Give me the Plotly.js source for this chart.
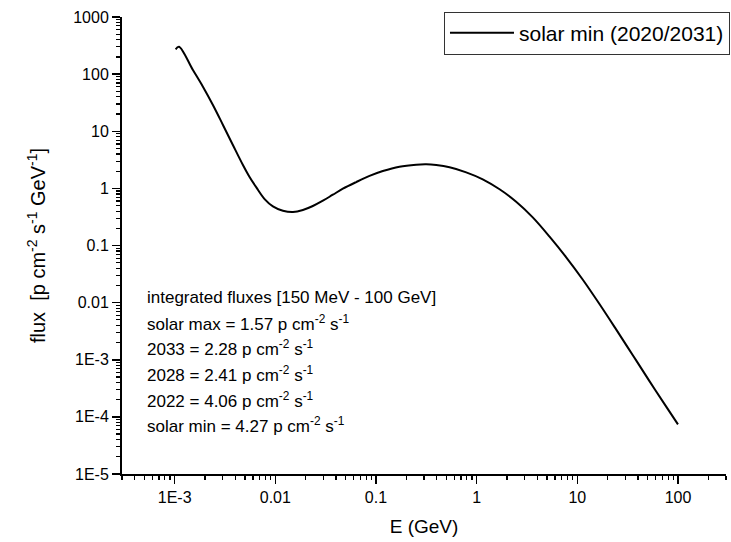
<!DOCTYPE html>
<html>
<head>
<meta charset="utf-8">
<script src="https://cdn.plot.ly/plotly-3.0.1.min.js"></script>
<style>html,body{margin:0;padding:0;background:#fff;}#chart{width:731px;height:542px;}</style>
</head>
<body>
<div id="chart"></div>
<script>
// Energy (GeV)
const energy = [1.023e-3, 1.104e-3, 1.52e-3, 1.91e-3, 2.40e-3, 3.02e-3, 3.79e-3, 4.77e-3, 5.55e-3, 6.48e-3,
  7.83e-3, 9.47e-3, 0.0119, 0.0150, 0.0188, 0.0236, 0.0297, 0.0373, 0.0469, 0.0637,
  0.0863, 0.117, 0.171, 0.251, 0.316, 0.397, 0.538, 0.788, 1.15, 1.69,
  2.47, 3.61, 5.30, 7.76, 11.4, 16.6, 24.3, 35.6, 52.1, 76.4, 100];
// Flux (p cm^-2 s^-1 GeV^-1)
const flux = [272, 302, 118, 60.2, 28.8, 12.9, 5.74, 2.56, 1.58, 1.04,
  0.650, 0.485, 0.406, 0.385, 0.418, 0.491, 0.608, 0.774, 0.986, 1.29,
  1.65, 2.01, 2.40, 2.60, 2.64, 2.56, 2.34, 1.91, 1.44, 0.964,
  0.584, 0.311, 0.143, 0.0621, 0.0249, 9.45e-3, 3.40e-3, 1.20e-3, 4.23e-4, 1.51e-4, 7.4e-5];
const seriesName = "solar min (2020/2031)";
const xTickVals = [1e-3, 1e-2, 1e-1, 1, 10, 100];
const xTickText = ["1E-3", "0.01", "0.1", "1", "10", "100"];
const yTickVals = [1000, 100, 10, 1, 0.1, 0.01, 1e-3, 1e-4, 1e-5];
const yTickText = ["1000", "100", "10", "1", "0.1", "0.01", "1E-3", "1E-4", "1E-5"];
const noteLines = [
  "integrated fluxes [150 MeV - 100 GeV]",
  "solar max = 1.57 p cm<sup>-2</sup> s<sup>-1</sup>",
  "2033 = 2.28 p cm<sup>-2</sup> s<sup>-1</sup>",
  "2028 = 2.41 p cm<sup>-2</sup> s<sup>-1</sup>",
  "2022 = 4.06 p cm<sup>-2</sup> s<sup>-1</sup>",
  "solar min = 4.27 p cm<sup>-2</sup> s<sup>-1</sup>"
];

const FONT = "Liberation Sans, Arial, sans-serif";
const noteY = [0.3867, 0.331, 0.275, 0.219, 0.163, 0.107];
const annotations = noteLines.map((t, i) => ({
  text: t, xref: "paper", yref: "paper", x: 0.038, y: noteY[i],
  xanchor: "left", yanchor: "middle", showarrow: false,
  font: {family: FONT, size: 17, color: "#000"}
}));

const trace = {
  x: energy, y: flux, type: "scatter", mode: "lines", name: seriesName,
  line: {color: "#000", width: 2, shape: "spline", smoothing: 1}
};

const axisCommon = {
  type: "log", showgrid: false, zeroline: false, showline: true,
  linecolor: "#000", linewidth: 2, ticks: "outside", ticklen: 8, tickwidth: 1.5,
  tickcolor: "#000", mirror: false,
  tickfont: {family: FONT, size: 16, color: "#000"},
  minor: {ticks: "outside", ticklen: 4, tickwidth: 1.2, tickcolor: "#000", dtick: "D1", showgrid: false}
};

const layout = {
  width: 731, height: 542,
  margin: {l: 122, r: 5, t: 17, b: 68, autoexpand: false},
  paper_bgcolor: "#fff", plot_bgcolor: "#fff",
  font: {family: FONT, color: "#000"},
  showlegend: true,
  legend: {
    x: 1.0066, y: 1.0116, xanchor: "right", yanchor: "top",
    bgcolor: "#fff", bordercolor: "#333", borderwidth: 1,
    font: {family: FONT, size: 21, color: "#000"}, itemwidth: 64
  },
  xaxis: Object.assign({}, axisCommon, {
    range: [Math.log10(3e-4), Math.log10(300)],
    tickmode: "array", tickvals: xTickVals, ticktext: xTickText,
    title: {text: "E (GeV)", font: {family: FONT, size: 19, color: "#000"}, standoff: 14}
  }),
  yaxis: Object.assign({}, axisCommon, {
    range: [-5, 3],
    tickmode: "array", tickvals: yTickVals, ticktext: yTickText,
    title: {text: "flux  [p cm<sup>-2</sup> s<sup>-1</sup> GeV<sup>-1</sup>]", font: {family: FONT, size: 20, color: "#000"}, standoff: 22}
  }),
  annotations: annotations
};

Plotly.newPlot("chart", [trace], layout, {displayModeBar: false, staticPlot: true});
</script>
</body>
</html>
